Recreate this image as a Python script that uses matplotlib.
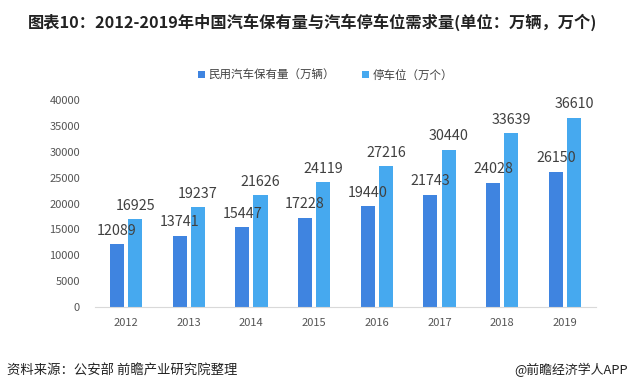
import matplotlib.pyplot as plt
import numpy as np

plt.rcParams['font.family'] = ['Noto Sans CJK SC', 'DejaVu Sans']

years = ["2012", "2013", "2014", "2015", "2016", "2017", "2018", "2019"]
cars = [12089, 13741, 15447, 17228, 19440, 21743, 24028, 26150]
parking = [16925, 19237, 21626, 24119, 27216, 30440, 33639, 36610]
series_names = ["民用汽车保有量（万辆）", "停车位（万个）"]
colors = ["#3F84E0", "#46A9EF"]

fig = plt.figure(figsize=(6.31, 3.91), dpi=100)
ax = fig.add_axes([0.150, 0.215, 0.795, 0.529])

x = np.arange(len(years))
w = 0.225
off = 0.145
b1 = ax.bar(x - off, cars, w, color=colors[0], label=series_names[0])
b2 = ax.bar(x + off, parking, w, color=colors[1], label=series_names[1])

for bars in (b1, b2):
    for r in bars:
        ax.text(r.get_x() + r.get_width() / 2, r.get_height() + 2600, str(int(r.get_height())),
                ha="center", va="center", fontsize=10.3, color="#404040")

ax.set_xlim(-0.5, len(years) - 0.5)
ax.set_ylim(0, 40000)
ax.set_yticks(range(0, 40001, 5000))
ax.set_xticks(x)
ax.set_xticklabels(years)
ax.tick_params(axis="both", length=0, labelsize=8, colors="#555555")
ax.tick_params(axis="y", pad=10.5)
ax.tick_params(axis="x", pad=8)
for s in ["top", "right", "left"]:
    ax.spines[s].set_visible(False)
ax.spines["bottom"].set_color("#D9D9D9")

fig.legend(handles=[b1, b2], labels=series_names, loc="center", bbox_to_anchor=(0.516, 0.807),
           ncol=2, frameon=False, fontsize=8.3, handlelength=0.55, handleheight=0.55,
           handletextpad=0.3, columnspacing=2.4, labelcolor="#404040")

fig.text(0.044, 0.943, "图表10：2012-2019年中国汽车保有量与汽车停车位需求量(单位：万辆，万个)",
         fontsize=11.7, fontweight="bold", color="#222222", va="center")
fig.text(0.011, 0.053, "资料来源：公安部 前瞻产业研究院整理", fontsize=9.6, color="#222222", va="center")
fig.text(0.995, 0.053, "@前瞻经济学人APP", fontsize=9.3, color="#222222", va="center", ha="right")

fig.savefig("out.png", dpi=100)
